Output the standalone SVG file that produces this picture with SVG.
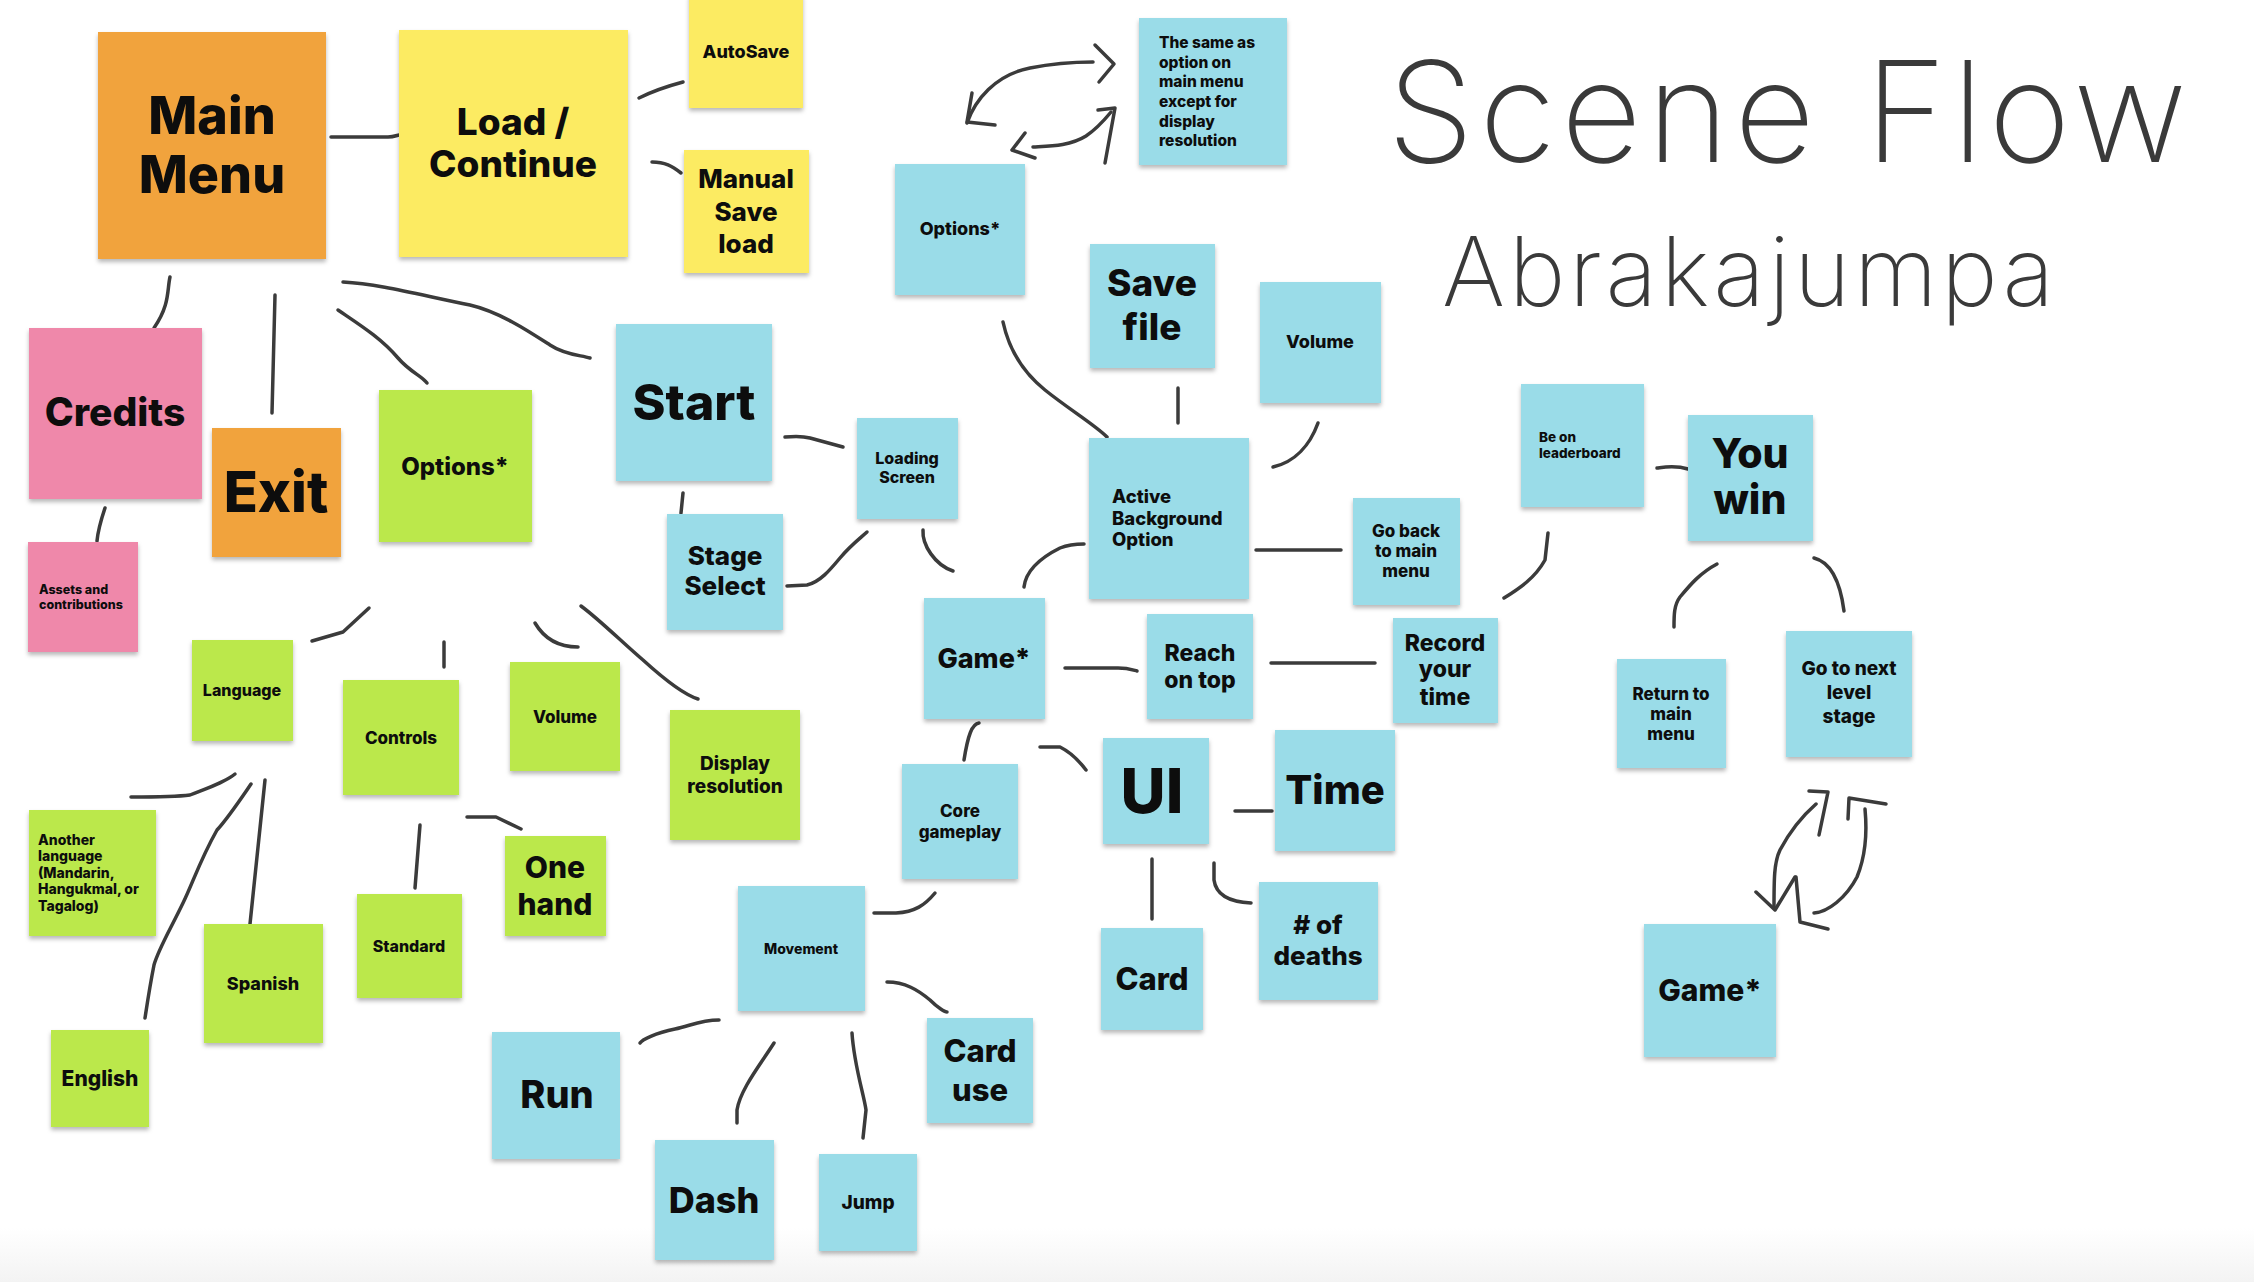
<svg xmlns="http://www.w3.org/2000/svg" width="2254" height="1282" viewBox="0 0 2254 1282">
<defs>
<filter id="sh" x="-10%" y="-10%" width="120%" height="125%">
<feDropShadow dx="0" dy="3" stdDeviation="2" flood-color="#000" flood-opacity="0.28"/>
</filter>
<linearGradient id="bg" x1="0" y1="0" x2="0" y2="1">
<stop offset="0" stop-color="#ffffff"/>
<stop offset="1" stop-color="#f3f3f3"/>
</linearGradient>
<style>
.n rect{filter:url(#sh)}
.o{fill:#F1A33D}.y{fill:#FCEB62}.p{fill:#EF88AA}.g{fill:#BBE84B}.b{fill:#9ADCE8}
text{font-family:Inter,"Open Sans","Liberation Sans",sans-serif;font-weight:800;fill:#0d0d0d}
.c{text-anchor:middle}
.hw{font-family:Inter,"DejaVu Sans","Liberation Sans",sans-serif;font-weight:200;fill:#3a3a3a}
#connectors path{fill:none;stroke:#3b3b3b;stroke-width:3.5;stroke-linecap:round;stroke-linejoin:round}
</style>
</defs>
<rect x="0" y="0" width="2254" height="1282" fill="#fff"/>
<rect x="0" y="1228" width="2254" height="54" fill="url(#bg)"/>

<g id="title">
<text class="hw" x="1387" y="162" font-size="140" textLength="800" lengthAdjust="spacing">Scene Flow</text>
<text class="hw" x="1442" y="306" font-size="96" textLength="612" lengthAdjust="spacing">Abrakajumpa</text>
</g>

<g id="connectors">
<path d="M331,137 L388,137 C396,137 398,134 406,134"/>
<path d="M639,98 C655,90 668,86 683,82"/>
<path d="M652,162 C665,162 672,166 681,173"/>
<path d="M170,277 C167,290 170,305 154,328"/>
<path d="M275,295 L272,413"/>
<path d="M338,310 C360,325 381,338 398,358 C410,372 422,376 427,383"/>
<path d="M343,282 C380,284 420,295 470,305 C500,312 530,332 550,345 C565,355 580,355 590,358"/>
<path d="M105,508 C101,520 98,530 97,541"/>
<path d="M369,608 L343,632 L312,641"/>
<path d="M444,642 L444,667"/>
<path d="M535,623 C545,640 560,647 578,647"/>
<path d="M581,606 C600,620 625,645 643,660 C665,680 685,695 698,699"/>
<path d="M785,437 C795,436 803,436 810,438 L843,447"/>
<path d="M683,493 L681,513"/>
<path d="M787,586 L807,585 C820,582 830,570 840,558 C850,546 858,540 867,532"/>
<path d="M923,530 C922,545 935,565 953,571"/>
<path d="M1024,587 C1026,570 1040,558 1060,548 C1070,544 1078,544 1084,544"/>
<path d="M1003,322 C1008,345 1020,370 1045,390 C1070,410 1095,425 1107,437"/>
<path d="M1178,388 L1178,423"/>
<path d="M1318,423 C1310,445 1295,462 1273,467"/>
<path d="M1256,550 L1341,550"/>
<path d="M1065,668 L1118,668 C1128,668 1133,670 1137,671"/>
<path d="M1271,663 L1375,663"/>
<path d="M979,723 C972,724 968,735 964,760"/>
<path d="M1040,747 L1060,747 C1070,752 1080,762 1086,770"/>
<path d="M1235,811 L1272,811"/>
<path d="M1152,859 L1152,919"/>
<path d="M1214,863 L1214,880 C1216,895 1230,902 1251,903"/>
<path d="M935,893 C925,905 915,912 896,913 L874,913"/>
<path d="M887,982 C905,982 918,990 930,1000 C938,1008 945,1012 947,1012"/>
<path d="M719,1020 C700,1020 690,1026 675,1029 C655,1033 642,1040 640,1043"/>
<path d="M774,1043 C760,1065 740,1090 737,1110 L737,1123"/>
<path d="M852,1033 C854,1065 864,1095 866,1110 L863,1138"/>
<path d="M235,774 C225,782 210,787 190,795 C175,797 150,797 131,797"/>
<path d="M251,784 C240,800 228,818 217,830 C200,860 192,885 183,903 C170,930 158,950 154,965 C150,985 147,1005 145,1018"/>
<path d="M265,780 L250,924"/>
<path d="M420,825 L415,888"/>
<path d="M467,817 L496,817 L521,829"/>
<path d="M1504,598 C1520,588 1535,578 1545,560 L1548,533"/>
<path d="M1657,468 C1665,467 1675,465 1688,469"/>
<path d="M1717,564 C1700,573 1690,585 1680,597 C1674,605 1674,615 1674,627"/>
<path d="M1814,558 C1830,562 1840,580 1844,611"/>
<path d="M1809,791 L1828,792 L1819,835"/>
<path d="M1816,804 C1800,818 1788,835 1780,850 C1774,862 1774,880 1774,908"/>
<path d="M1756,892 L1775,910 L1795,877"/>
<path d="M1814,913 C1828,912 1846,898 1857,877 C1866,855 1867,830 1865,809"/>
<path d="M1848,819 L1849,798 L1886,804"/>
<path d="M1796,877 L1800,922 L1828,929"/>
<path d="M967,123 C975,100 995,75 1030,68 C1060,62 1080,62 1093,62"/>
<path d="M1095,45 L1114,64 L1099,82"/>
<path d="M972,93 L967,122 L995,125"/>
<path d="M1025,133 L1012,150 L1035,158"/>
<path d="M1033,147 C1050,146 1070,146 1086,136 C1098,128 1106,118 1111,112"/>
<path d="M1098,110 L1115,108 L1105,163"/>
</g>

<g id="n-mainmenu" class="n"><rect class="o" x="98" y="32" width="228" height="227"/><text class="c" x="212" y="134" font-size="52">Main</text><text class="c" x="212" y="193" font-size="52">Menu</text></g>
<g id="n-load" class="n"><rect class="y" x="399" y="30" width="229" height="227"/><text class="c" x="513" y="135" font-size="37">Load /</text><text class="c" x="513" y="177" font-size="37">Continue</text></g>
<g id="n-autosave" class="n"><rect class="y" x="689" y="-6" width="114" height="114"/><text class="c" x="746" y="58" font-size="18">AutoSave</text></g>
<g id="n-manual" class="n"><rect class="y" x="684" y="150" width="125" height="123"/><text class="c" x="746" y="188" font-size="26">Manual</text><text class="c" x="746" y="221" font-size="26">Save</text><text class="c" x="746" y="253" font-size="26">load</text></g>
<g id="n-credits" class="n"><rect class="p" x="29" y="328" width="173" height="171"/><text class="c" x="115" y="426" font-size="39">Credits</text></g>
<g id="n-exit" class="n"><rect class="o" x="212" y="428" width="129" height="129"/><text class="c" x="276" y="512" font-size="56">Exit</text></g>
<g id="n-options-main" class="n"><rect class="g" x="379" y="390" width="153" height="152"/><text class="c" x="455" y="475" font-size="24">Options*</text></g>
<g id="n-start" class="n"><rect class="b" x="616" y="324" width="156" height="157"/><text class="c" x="694" y="420" font-size="50">Start</text></g>
<g id="n-stage" class="n"><rect class="b" x="667" y="514" width="116" height="116"/><text class="c" x="725" y="565" font-size="26">Stage</text><text class="c" x="725" y="595" font-size="26">Select</text></g>
<g id="n-loading" class="n"><rect class="b" x="857" y="418" width="101" height="101"/><text class="c" x="907" y="464" font-size="16">Loading</text><text class="c" x="907" y="483" font-size="16">Screen</text></g>
<g id="n-assets" class="n"><rect class="p" x="28" y="542" width="110" height="110"/><text x="39" y="594" font-size="12.5">Assets and</text><text x="39" y="609" font-size="12.5">contributions</text></g>
<g id="n-language" class="n"><rect class="g" x="192" y="640" width="101" height="101"/><text class="c" x="242" y="696" font-size="16">Language</text></g>
<g id="n-controls" class="n"><rect class="g" x="343" y="680" width="116" height="115"/><text class="c" x="401" y="744" font-size="17">Controls</text></g>
<g id="n-volume-opt" class="n"><rect class="g" x="510" y="662" width="110" height="109"/><text class="c" x="565" y="723" font-size="17">Volume</text></g>
<g id="n-display" class="n"><rect class="g" x="670" y="710" width="130" height="130"/><text class="c" x="735" y="770" font-size="19">Display</text><text class="c" x="735" y="793" font-size="19">resolution</text></g>
<g id="n-another" class="n"><rect class="g" x="29" y="810" width="127" height="126"/><text x="38" y="845" font-size="14">Another</text><text x="38" y="861" font-size="14">language</text><text x="38" y="878" font-size="14">(Mandarin,</text><text x="38" y="894" font-size="14">Hangukmal, or</text><text x="38" y="911" font-size="14">Tagalog)</text></g>
<g id="n-spanish" class="n"><rect class="g" x="204" y="924" width="119" height="119"/><text class="c" x="263" y="990" font-size="18">Spanish</text></g>
<g id="n-english" class="n"><rect class="g" x="51" y="1030" width="98" height="97"/><text class="c" x="100" y="1086" font-size="21">English</text></g>
<g id="n-standard" class="n"><rect class="g" x="357" y="894" width="105" height="104"/><text class="c" x="409" y="952" font-size="16">Standard</text></g>
<g id="n-onehand" class="n"><rect class="g" x="505" y="836" width="101" height="100"/><text class="c" x="555" y="878" font-size="30">One</text><text class="c" x="555" y="915" font-size="30">hand</text></g>
<g id="n-run" class="n"><rect class="b" x="492" y="1032" width="128" height="127"/><text class="c" x="557" y="1108" font-size="38">Run</text></g>
<g id="n-dash" class="n"><rect class="b" x="655" y="1140" width="119" height="120"/><text class="c" x="714" y="1213" font-size="36">Dash</text></g>
<g id="n-jump" class="n"><rect class="b" x="819" y="1154" width="98" height="97"/><text class="c" x="868" y="1209" font-size="19">Jump</text></g>
<g id="n-carduse" class="n"><rect class="b" x="927" y="1018" width="106" height="105"/><text class="c" x="980" y="1062" font-size="31">Card</text><text class="c" x="980" y="1101" font-size="31">use</text></g>
<g id="n-movement" class="n"><rect class="b" x="738" y="886" width="127" height="125"/><text class="c" x="801" y="954" font-size="14">Movement</text></g>
<g id="n-core" class="n"><rect class="b" x="902" y="764" width="116" height="115"/><text class="c" x="960" y="817" font-size="17">Core</text><text class="c" x="960" y="838" font-size="17">gameplay</text></g>
<g id="n-game" class="n"><rect class="b" x="924" y="598" width="121" height="121"/><text class="c" x="984" y="668" font-size="27">Game*</text></g>
<g id="n-active" class="n"><rect class="b" x="1089" y="438" width="160" height="161"/><text x="1112" y="503" font-size="18.5">Active</text><text x="1112" y="525" font-size="18.5">Background</text><text x="1112" y="546" font-size="18.5">Option</text></g>
<g id="n-goback" class="n"><rect class="b" x="1353" y="498" width="107" height="107"/><text class="c" x="1406" y="537" font-size="17">Go back</text><text class="c" x="1406" y="557" font-size="17">to main</text><text class="c" x="1406" y="577" font-size="17">menu</text></g>
<g id="n-reach" class="n"><rect class="b" x="1147" y="614" width="106" height="105"/><text class="c" x="1200" y="661" font-size="23">Reach</text><text class="c" x="1200" y="688" font-size="23">on top</text></g>
<g id="n-record" class="n"><rect class="b" x="1393" y="618" width="105" height="105"/><text class="c" x="1445" y="651" font-size="23">Record</text><text class="c" x="1445" y="677" font-size="23">your</text><text class="c" x="1445" y="705" font-size="23">time</text></g>
<g id="n-ui" class="n"><rect class="b" x="1103" y="738" width="106" height="106"/><text class="c" x="1152" y="813" font-size="62">UI</text></g>
<g id="n-time" class="n"><rect class="b" x="1275" y="730" width="120" height="121"/><text class="c" x="1335" y="804" font-size="40">Time</text></g>
<g id="n-card" class="n"><rect class="b" x="1101" y="928" width="102" height="102"/><text class="c" x="1152" y="990" font-size="31">Card</text></g>
<g id="n-deaths" class="n"><rect class="b" x="1259" y="882" width="119" height="118"/><text class="c" x="1318" y="934" font-size="26"># of</text><text class="c" x="1318" y="965" font-size="26">deaths</text></g>
<g id="n-options-game" class="n"><rect class="b" x="895" y="164" width="130" height="131"/><text class="c" x="960" y="235" font-size="18">Options*</text></g>
<g id="n-same" class="n"><rect class="b" x="1139" y="18" width="148" height="147"/><text x="1159" y="48" font-size="15.5">The same as</text><text x="1159" y="68" font-size="15.5">option on</text><text x="1159" y="87" font-size="15.5">main menu</text><text x="1159" y="107" font-size="15.5">except for</text><text x="1159" y="127" font-size="15.5">display</text><text x="1159" y="146" font-size="15.5">resolution</text></g>
<g id="n-savefile" class="n"><rect class="b" x="1090" y="244" width="125" height="124"/><text class="c" x="1152" y="296" font-size="37">Save</text><text class="c" x="1152" y="340" font-size="37">file</text></g>
<g id="n-volume-game" class="n"><rect class="b" x="1260" y="282" width="121" height="121"/><text class="c" x="1320" y="348" font-size="18">Volume</text></g>
<g id="n-leaderboard" class="n"><rect class="b" x="1521" y="384" width="123" height="123"/><text x="1539" y="442" font-size="13.5">Be on</text><text x="1539" y="458" font-size="13.5">leaderboard</text></g>
<g id="n-youwin" class="n"><rect class="b" x="1688" y="415" width="125" height="126"/><text class="c" x="1750" y="468" font-size="41">You</text><text class="c" x="1750" y="514" font-size="41">win</text></g>
<g id="n-return" class="n"><rect class="b" x="1617" y="659" width="109" height="109"/><text class="c" x="1671" y="700" font-size="17">Return to</text><text class="c" x="1671" y="720" font-size="17">main</text><text class="c" x="1671" y="740" font-size="17">menu</text></g>
<g id="n-nextlevel" class="n"><rect class="b" x="1786" y="631" width="126" height="126"/><text class="c" x="1849" y="675" font-size="19">Go to next</text><text class="c" x="1849" y="699" font-size="19">level</text><text class="c" x="1849" y="723" font-size="19">stage</text></g>
<g id="n-game2" class="n"><rect class="b" x="1644" y="924" width="132" height="133"/><text class="c" x="1710" y="1001" font-size="30">Game*</text></g>
</svg>
